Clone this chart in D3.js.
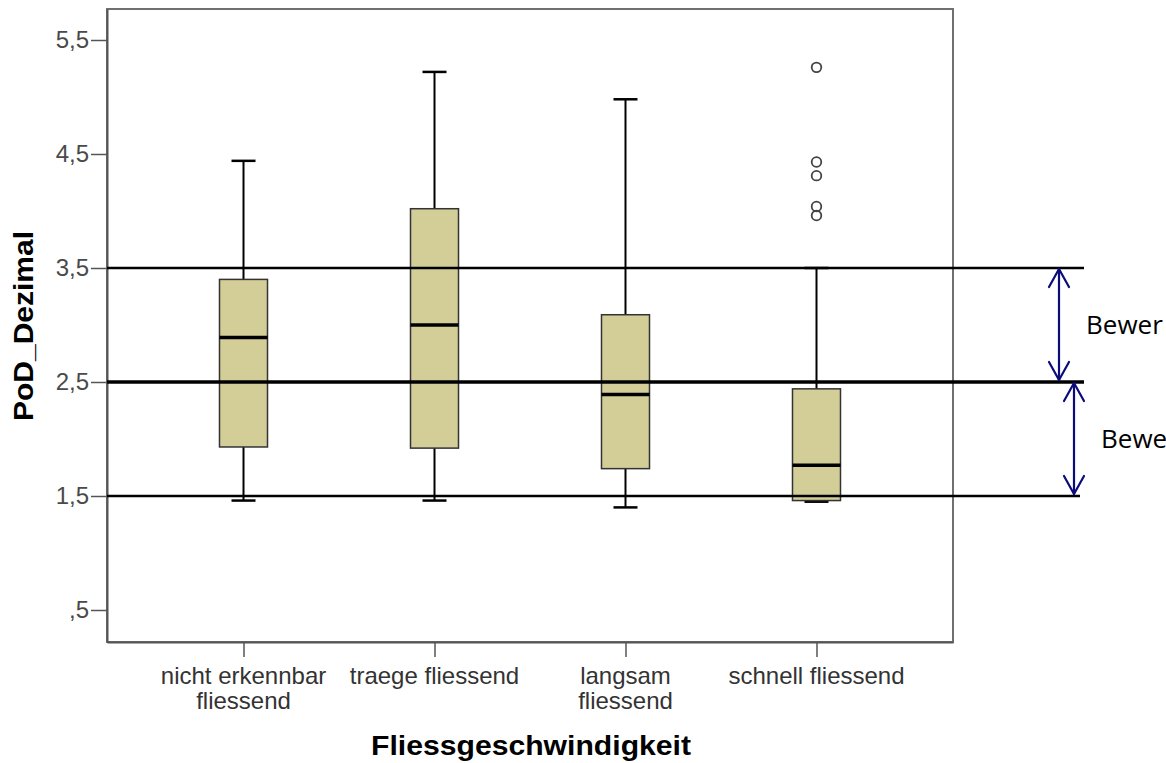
<!DOCTYPE html>
<html>
<head>
<meta charset="utf-8">
<script src="https://cdn.jsdelivr.net/npm/d3@7"></script>
<style>
  html, body { margin: 0; padding: 0; background: #fff; }
  svg { display: block; }
</style>
</head>
<body>
<svg id="chart" width="1166" height="763"></svg>
<script>
// ---- data ----
const categories = ["nicht erkennbar fliessend", "traege fliessend", "langsam fliessend", "schnell fliessend"];
const categoryLines = [["nicht erkennbar", "fliessend"], ["traege fliessend"], ["langsam", "fliessend"], ["schnell fliessend"]];
const whiskerLow  = [1.46, 1.46, 1.40, 1.45];
const q1          = [1.93, 1.92, 1.74, 1.46];
const median      = [2.89, 3.00, 2.39, 1.77];
const q3          = [3.40, 4.02, 3.09, 2.44];
const whiskerHigh = [4.44, 5.22, 4.98, 3.50];
const outlierCategory = ["schnell fliessend", "schnell fliessend", "schnell fliessend", "schnell fliessend", "schnell fliessend"];
const outlierValues   = [5.26, 4.43, 4.31, 4.04, 3.96];
const yTickValues = [0.5, 1.5, 2.5, 3.5, 4.5, 5.5];
const yTickLabels = [",5", "1,5", "2,5", "3,5", "4,5", "5,5"];
const refValues = [3.5, 2.5, 1.5];
const rangeArrows = [[3.5, 2.5], [2.5, 1.5]];
const rangeLabels = ["Bewer", "Bewe"];
const yTitle = "PoD_Dezimal";
const xTitle = "Fliessgeschwindigkeit";

// ---- layout ----
const svg = d3.select("#chart");
const L = 107, R = 953, T = 9, B = 642;
const y = d3.scaleLinear().domain([0.5 - 32 / 114, 0.5 + 601 / 114]).range([B, T]);
const x = d3.scalePoint().domain(categories).range([L, R]).padding(0.7147);
const boxHalf = 24, capHalf = 12;
const fill = "#d3ce97";

// frame
svg.append("rect").attr("x", L).attr("y", T).attr("width", R - L).attr("height", B - T)
  .attr("fill", "none").attr("stroke", "#707070").attr("stroke-width", 2);

// y axis
const yAxis = d3.axisLeft(y).tickValues(yTickValues).tickSize(16).tickSizeOuter(0).tickPadding(2)
  .tickFormat((d, i) => yTickLabels[i]);
const gy = svg.append("g").attr("transform", `translate(${L},0)`).call(yAxis);
gy.select(".domain").attr("stroke", "#555").attr("stroke-width", 2);
gy.selectAll(".tick line").attr("stroke", "#555").attr("stroke-width", 1.5);
gy.selectAll(".tick text").attr("font-family", "'Liberation Sans', Arial, sans-serif")
  .attr("font-size", 24).attr("fill", "#4a4a4a");

// x axis
const xAxis = d3.axisBottom(x).tickSize(15).tickSizeOuter(0).tickFormat("");
const gx = svg.append("g").attr("transform", `translate(0,${B})`).call(xAxis);
gx.select(".domain").attr("stroke", "#555").attr("stroke-width", 2);
gx.selectAll(".tick line").attr("stroke", "#555").attr("stroke-width", 1.5);
categories.forEach((c, i) => {
  const t = svg.append("text").attr("x", x(c)).attr("y", 684)
    .attr("text-anchor", "middle")
    .attr("font-family", "'Liberation Sans', Arial, sans-serif")
    .attr("font-size", 24).attr("fill", "#333");
  categoryLines[i].forEach((ln, k) => {
    t.append("tspan").attr("x", x(c)).attr("dy", k === 0 ? 0 : 25).text(ln);
  });
});

// titles
svg.append("text").attr("x", 531).attr("y", 755).attr("text-anchor", "middle")
  .attr("font-family", "'Liberation Sans', Arial, sans-serif").attr("font-weight", "bold")
  .attr("font-size", 27).attr("textLength", 320).attr("lengthAdjust", "spacingAndGlyphs")
  .attr("fill", "#000").text(xTitle);
svg.append("text").attr("transform", "translate(33,326) rotate(-90)").attr("text-anchor", "middle")
  .attr("font-family", "'Liberation Sans', Arial, sans-serif").attr("font-weight", "bold")
  .attr("font-size", 27).attr("textLength", 190).attr("lengthAdjust", "spacingAndGlyphs")
  .attr("fill", "#000").text(yTitle);

// boxes
const boxes = categories.map((c, i) => ({ c, lo: whiskerLow[i], q1: q1[i], med: median[i], q3: q3[i], hi: whiskerHigh[i] }));
const g = svg.append("g");
boxes.forEach(d => {
  const cx = x(d.c);
  g.append("line").attr("x1", cx).attr("x2", cx).attr("y1", y(d.q3)).attr("y2", y(d.hi))
    .attr("stroke", "#000").attr("stroke-width", 2);
  g.append("line").attr("x1", cx).attr("x2", cx).attr("y1", y(d.q1)).attr("y2", y(d.lo))
    .attr("stroke", "#000").attr("stroke-width", 2);
  g.append("line").attr("x1", cx - capHalf).attr("x2", cx + capHalf).attr("y1", y(d.hi)).attr("y2", y(d.hi))
    .attr("stroke", "#000").attr("stroke-width", 2.5);
  g.append("line").attr("x1", cx - capHalf).attr("x2", cx + capHalf).attr("y1", y(d.lo)).attr("y2", y(d.lo))
    .attr("stroke", "#000").attr("stroke-width", 2.5);
  g.append("rect").attr("x", cx - boxHalf).attr("width", boxHalf * 2)
    .attr("y", y(d.q3)).attr("height", y(d.q1) - y(d.q3))
    .attr("fill", fill).attr("stroke", "#333").attr("stroke-width", 1.5);
  g.append("line").attr("x1", cx - boxHalf).attr("x2", cx + boxHalf).attr("y1", y(d.med)).attr("y2", y(d.med))
    .attr("stroke", "#000").attr("stroke-width", 3.5);
});

// outliers
outlierValues.forEach((v, i) => {
  g.append("circle").attr("cx", x(outlierCategory[i])).attr("cy", y(v)).attr("r", 4.8)
    .attr("fill", "none").attr("stroke", "#444").attr("stroke-width", 1.8);
});

// reference lines
const refWidth = [2.5, 3.5, 2.5];
const refEnd = [1084, 1084, 1080];
refValues.forEach((v, i) => {
  svg.append("line").attr("x1", L).attr("x2", refEnd[i]).attr("y1", y(v)).attr("y2", y(v))
    .attr("stroke", "#000").attr("stroke-width", refWidth[i]);
});

// range arrows
const navy = "#0b0b7a";
const arrowX = [1059, 1074];
rangeArrows.forEach((r, i) => {
  const ax = arrowX[i];
  const y1 = y(r[0]) + 1, y2 = y(r[1]) - 2;
  const ag = svg.append("g").attr("stroke", navy).attr("stroke-width", 2.2).attr("fill", "none")
    .attr("stroke-linecap", "round").attr("stroke-linejoin", "round");
  ag.append("line").attr("x1", ax).attr("x2", ax).attr("y1", y1).attr("y2", y2);
  ag.append("path").attr("d", `M${ax - 10},${y1 + 18} L${ax},${y1} L${ax + 10},${y1 + 18}`);
  ag.append("path").attr("d", `M${ax - 10},${y2 - 18} L${ax},${y2} L${ax + 10},${y2 - 18}`);
});

// range labels (clipped at the picture edge in the original)
const labelX = [1086, 1101];
const labelY = [334, 448];
rangeLabels.forEach((t, i) => {
  svg.append("text").attr("x", labelX[i]).attr("y", labelY[i])
    .attr("font-family", "'Open Sans', 'Noto Sans', sans-serif").attr("font-size", 26)
    .attr("fill", "#000").text(t);
});
</script>
</body>
</html>
